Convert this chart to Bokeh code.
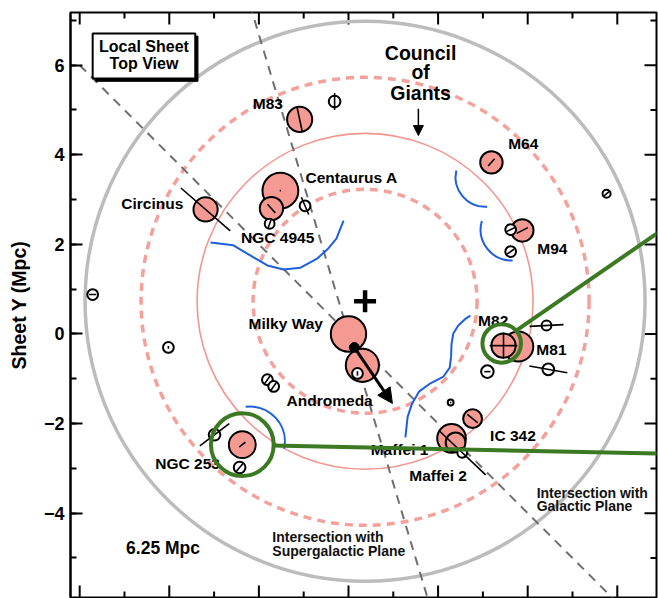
import numpy as np
from bokeh.plotting import figure
from bokeh.models import (Range1d, SingleIntervalTicker, Arrow, NormalHead,
                          BoxAnnotation)
from bokeh.core.properties import value
from bokeh.embed import file_html
from bokeh.resources import INLINE

FONT = "Liberation Sans"

# ---- Council of Giants ring (Mpc, Local Sheet coordinates) ----
ring_cx, ring_cy = 0.37, 0.73
ring_dashed_radii = [2.5, 5.0]
ring_solid_radius = 3.75
outer_radius = 6.25

# ---- giant galaxies ----
giant_names = ["Milky Way", "Andromeda", "Centaurus A", "NGC 4945", "M83",
               "Circinus", "M64", "M94", "M81", "M82", "IC 342",
               "Maffei 1", "Maffei 2", "NGC 253"]
giant_x = [0.00, 0.31, -1.52, -1.72, -1.09, -3.19, 3.19, 3.88, 3.79, 3.46,
           2.77, 2.30, 2.39, -2.37]
giant_y = [0.00, -0.70, 3.20, 2.80, 4.79, 2.78, 3.83, 2.31, -0.28, -0.26,
           -1.89, -2.33, -2.42, -2.47]
giant_r = [0.395, 0.37, 0.40, 0.26, 0.28, 0.27, 0.25, 0.25, 0.335, 0.27,
           0.21, 0.32, 0.22, 0.30]

# orientation axes of giants: galaxy index, position angle (deg), half length
giant_axis_idx = [2, 3, 4, 5, 6, 7, 9, 9, 10, 13]
giant_axis_angle = [0, -48, -78, -41, 48, 27, 0, 90, -39, 40]
giant_axis_half = [0.015, 0.13, 0.27, 0.73, 0.11, 0.14, 0.31, 0.29, 0.15, 0.09]

# ---- smaller galaxies ----
dwarf_x = [-0.31, -0.97, -1.76, -5.71, -4.02, -1.81, -1.67, -2.99, -2.43,
           0.20, 3.62, 3.62, 5.76, 4.42, 4.46, 3.10, 2.54, 2.28]
dwarf_y = [5.19, 2.86, 2.46, 0.88, -0.30, -1.02, -1.17, -2.25, -2.98,
           -0.88, 2.33, 1.84, 3.13, 0.19, -0.79, -0.84, -2.65, -1.53]
dwarf_r = [0.13, 0.12, 0.11, 0.12, 0.12, 0.12, 0.12, 0.13, 0.13,
           0.12, 0.12, 0.12, 0.09, 0.11, 0.13, 0.14, 0.11, 0.065]
dwarf_angle = [90, -67, 70, 0, 90, 55, 55, 37, 50,
               90, 25, 35, 40, 3, -10, 0, -43.6, 0]
dwarf_half = [0.19, 0.21, 0.10, 0.08, 0.03, 0.12, 0.12, 0.41, 0.13,
              0.05, 0.12, 0.10, 0.08, 0.38, 0.43, 0.07, 0.72, 0.015]

# ---- Local Group motion ----
lg_x, lg_y = 0.13, -0.30
lg_to_x, lg_to_y = 0.98, -1.55

# ---- plane intersections ----
galactic_x = [-6.0, 6.0]
galactic_y = [6.0, -6.0]
supergal_x = [-2.20, 1.80]
supergal_y = [7.35, -6.01]

# ---- blue curves: wavy paths and circular arcs ----
blue_paths = [
    ([-3.08, -2.57, -2.12, -1.81, -1.45, -1.07, -0.69, -0.45, -0.27, -0.11],
     [2.04, 1.98, 1.71, 1.53, 1.44, 1.48, 1.69, 1.91, 2.13, 2.53]),
    ([2.72, 2.60, 2.45, 2.34, 2.30, 2.29, 2.26, 2.12, 1.83, 1.58, 1.42,
      1.32, 1.27],
     [0.41, 0.33, 0.19, 0.01, -0.22, -0.50, -0.75, -0.95, -1.10, -1.28,
      -1.55, -1.85, -2.31]),
]
blue_arc_x = [3.05, 3.64, -2.20]
blue_arc_y = [3.50, 2.33, -2.40]
blue_arc_r = [0.66, 0.69, 0.78]
blue_arc_start = [167, 164, -12]
blue_arc_end = [274, 272, 97]

# ---- green sight lines ----
green_circle_x = [-2.37, 3.42]
green_circle_y = [-2.47, -0.21]
green_circle_r = [0.70, 0.43]
green_lines = [([-1.70, 6.95], [-2.49, -2.67]),
               ([3.75, 6.95], [0.08, 2.29])]

# ---- labels ----
label_text = ["M83", "Centaurus A", "Circinus", "NGC 4945", "M64", "M94",
              "Milky Way", "Andromeda", "M82", "M81", "IC 342", "Maffei 1",
              "Maffei 2", "NGC 253"]
label_x = [-1.80, 0.07, -4.38, -1.58, 3.90, 4.55, -1.40, -0.42, 3.23, 4.53,
           3.67, 1.14, 2.00, -3.59]
label_y = [5.14, 3.49, 2.91, 2.15, 4.25, 1.91, 0.23, -1.48, 0.30, -0.35,
           -2.27, -2.58, -3.16, -2.89]

X_LO, X_HI = -6.205, 6.875
Y_LO, Y_HI = -5.882, 7.176

PINK = "#f59a93"
RING_PINK = "#f4a19b"
GREEN = "#3b7a22"

p = figure(width=658, height=598,
           x_range=Range1d(X_LO, X_HI), y_range=Range1d(Y_LO, Y_HI),
           output_backend="svg", toolbar_location=None,
           x_axis_location=None,
           min_border_left=70, min_border_right=2, min_border_top=12,
           min_border_bottom=1, background_fill_color="white",
           border_fill_color="white", outline_line_color="black",
           outline_line_width=2)
p.grid.visible = False

# left axis, labelled
ax = p.yaxis[0]
ax.ticker = SingleIntervalTicker(interval=2, num_minor_ticks=2)
ax.axis_line_width = 2
ax.major_tick_in = 12
ax.major_tick_out = 0
ax.minor_tick_in = 6
ax.minor_tick_out = 0
ax.major_tick_line_width = 2
ax.minor_tick_line_width = 2
ax.major_label_text_font = FONT
ax.major_label_text_font_style = "bold"
ax.major_label_text_font_size = "18px"
ax.major_label_standoff = 6
ax.major_label_text_color = "black"
ax.axis_label = "Sheet Y (Mpc)"
ax.axis_label_text_font = FONT
ax.axis_label_text_font_style = "bold"
ax.axis_label_text_font_size = "19.5px"
ax.axis_label_text_color = "black"
ax.axis_label_standoff = 11

# inward ticks on the other three sides of the frame
px_per_unit = 586 / (X_HI - X_LO)
major_len = 12 / px_per_unit
minor_len = 6 / px_per_unit
x_ticks = np.arange(-6, 7, 1)
x_len = np.where(x_ticks % 2 == 0, major_len, minor_len)
y_ticks = np.arange(-5, 8, 1)
y_len = np.where(y_ticks % 2 == 0, major_len, minor_len)
p.segment(x_ticks, Y_LO, x_ticks, Y_LO + x_len, line_color="black",
          line_width=2)
p.segment(x_ticks, Y_HI, x_ticks, Y_HI - x_len, line_color="black",
          line_width=2)
p.segment(X_HI, y_ticks, X_HI - y_len, y_ticks, line_color="black",
          line_width=2)

# page edge
p.add_layout(BoxAnnotation(left=7, right=900, top=4, bottom=900,
                           left_units="canvas", right_units="canvas",
                           top_units="canvas", bottom_units="canvas",
                           fill_alpha=0, line_color="#d4d4d4", line_width=1))

# rings
p.circle(x=[ring_cx], y=[ring_cy], radius=outer_radius, fill_color=None,
         line_color="#bcbcbc", line_width=3.5)
p.circle(x=[ring_cx] * 2, y=[ring_cy] * 2, radius=ring_dashed_radii,
         fill_color=None, line_color=RING_PINK, line_width=3.5,
         line_dash="8 6")
p.circle(x=[ring_cx], y=[ring_cy], radius=ring_solid_radius, fill_color=None,
         line_color="#f29690", line_width=1.6)

# plane intersections
for xs, ys in [(galactic_x, galactic_y), (supergal_x, supergal_y)]:
    p.line(xs, ys, line_color="#6f6f6f", line_width=2, line_dash="9 7")

# blue curves
for xs, ys in blue_paths:
    p.line(xs, ys, line_color="#1d5fe0", line_width=2, line_join="round")
p.arc(x=blue_arc_x, y=blue_arc_y, radius=blue_arc_r,
      start_angle=blue_arc_start, end_angle=blue_arc_end,
      start_angle_units="deg", end_angle_units="deg",
      line_color="#1d5fe0", line_width=2)

# labels (under the green marks)
p.text(x=label_x, y=label_y, text=label_text, text_font=value(FONT),
       text_font_style="bold", text_font_size="15.5px", text_align="center",
       text_baseline="middle", text_color="black")


def axis_segments(xs, ys, ang, half):
    a = np.radians(np.asarray(ang, dtype=float))
    h = np.asarray(half, dtype=float)
    xs = np.asarray(xs, dtype=float)
    ys = np.asarray(ys, dtype=float)
    return (xs - h * np.cos(a), ys - h * np.sin(a),
            xs + h * np.cos(a), ys + h * np.sin(a))


# giants
p.circle(x=giant_x, y=giant_y, radius=giant_r, fill_color=PINK,
         line_color="black", line_width=2)
gx = [giant_x[i] for i in giant_axis_idx]
gy = [giant_y[i] for i in giant_axis_idx]
x0, y0, x1, y1 = axis_segments(gx, gy, giant_axis_angle, giant_axis_half)
p.segment(x0, y0, x1, y1, line_color="black", line_width=1.6)

# smaller galaxies
p.circle(x=dwarf_x, y=dwarf_y, radius=dwarf_r, fill_color="white",
         line_color="black", line_width=2)
x0, y0, x1, y1 = axis_segments(dwarf_x, dwarf_y, dwarf_angle, dwarf_half)
p.segment(x0, y0, x1, y1, line_color="black", line_width=1.6)

# green sight lines
p.circle(x=green_circle_x, y=green_circle_y, radius=green_circle_r,
         fill_color=None, line_color=GREEN, line_width=4)
for xs, ys in green_lines:
    p.line(xs, ys, line_color=GREEN, line_width=4)

# Local Group barycentre and its motion
p.circle(x=[lg_x], y=[lg_y], radius=0.11, fill_color="black",
         line_color="black")
p.add_layout(Arrow(end=NormalHead(size=15, fill_color="black",
                                  line_color="black"),
                   x_start=lg_x, y_start=lg_y, x_end=lg_to_x, y_end=lg_to_y,
                   line_width=3, line_color="black"))

# ring centre
p.scatter(x=[ring_cx], y=[ring_cy], marker="cross", size=22, line_width=4.5,
          line_color="black")

# Council of Giants caption
p.text(x=[1.61] * 3, y=[6.28, 5.84, 5.39], text=["Council", "of", "Giants"],
       text_font=value(FONT), text_font_style="bold", text_font_size="19.5px",
       text_align="center", text_baseline="middle", text_color="black")
p.add_layout(Arrow(end=NormalHead(size=10, fill_color="black",
                                  line_color="black"),
                   x_start=1.56, y_start=5.03, x_end=1.56, y_end=4.43,
                   line_width=1.5, line_color="black"))

# title box
p.quad(left=[-5.65], right=[-3.36], top=[6.65], bottom=[5.64],
       fill_color="black", line_color="black")
p.quad(left=[-5.71], right=[-3.42], top=[6.71], bottom=[5.70],
       fill_color="white", line_color="black", line_width=2)
p.text(x=[-4.565] * 2, y=[6.42, 6.03], text=["Local Sheet", "Top View"],
       text_font=value(FONT), text_font_style="bold", text_font_size="16px",
       text_align="center", text_baseline="middle", text_color="black")

# scale and plane captions
p.text(x=[-4.14], y=[-4.77], text=["6.25 Mpc"], text_font=value(FONT),
       text_font_style="bold", text_font_size="17.5px", text_align="center",
       text_baseline="middle", text_color="black")
p.text(x=[-1.70, -1.70, 4.20, 4.20], y=[-4.54, -4.84, -3.56, -3.85],
       text=["Intersection with", "Supergalactic Plane",
             "Intersection with", "Galactic Plane"],
       text_font=value(FONT), text_font_style="bold", text_font_size="14px",
       text_align="left", text_baseline="middle", text_color="#111111")

open("out.html", "w").write(file_html(p, INLINE))
